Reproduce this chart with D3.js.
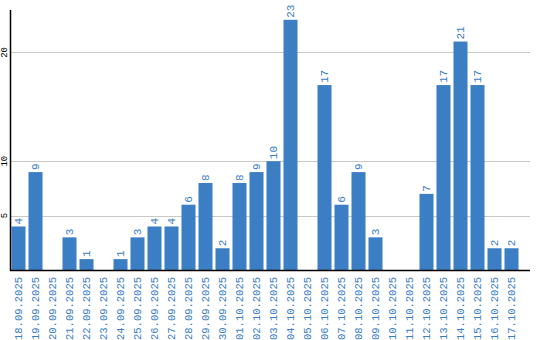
<!DOCTYPE html>
<html lang="en">
<head>
    <meta charset="UTF-8">
    <title>Daily counts</title>
    <script src="https://d3js.org/d3.v7.min.js"></script>
    <style>
        body {
            margin: 0;
            background-color: #ffffff;
        }
        svg {
            display: block;
        }
        text {
            font-family: 'Liberation Mono', monospace;
        }
    </style>
</head>
<body>
    <svg id="chart"></svg>

    <script>
        const dates = [
            "18.09.2025", "19.09.2025", "20.09.2025", "21.09.2025", "22.09.2025",
            "23.09.2025", "24.09.2025", "25.09.2025", "26.09.2025", "27.09.2025",
            "28.09.2025", "29.09.2025", "30.09.2025", "01.10.2025", "02.10.2025",
            "03.10.2025", "04.10.2025", "05.10.2025", "06.10.2025", "07.10.2025",
            "08.10.2025", "09.10.2025", "10.10.2025", "11.10.2025", "12.10.2025",
            "13.10.2025", "14.10.2025", "15.10.2025", "16.10.2025", "17.10.2025"
        ];
        const counts = [4, 9, 0, 3, 1, 0, 1, 3, 4, 4, 6, 8, 2, 8, 9, 10, 23, 0, 17, 6, 9, 3, 0, 0, 7, 17, 21, 17, 2, 2];
        const yTicks = [5, 10, 20];

        const width = 540;
        const height = 340;
        const margin = { top: 10, right: 10, bottom: 70, left: 10 };
        const barColor = "#3b7ec3";

        const svg = d3.select("#chart")
            .attr("width", width)
            .attr("height", height);

        const x = d3.scaleBand()
            .domain(dates)
            .range([margin.left, width - 20])
            .paddingInner(0.176)
            .paddingOuter(0.088);

        const y = d3.scaleLinear()
            .domain([0, 23.9])
            .range([height - margin.bottom, margin.top]);

        // gridlines
        svg.append("g")
            .selectAll("line")
            .data(yTicks)
            .enter().append("line")
            .attr("x1", margin.left)
            .attr("x2", width - margin.right)
            .attr("y1", d => Math.round(y(d)) + 0.5)
            .attr("y2", d => Math.round(y(d)) + 0.5)
            .attr("stroke", "#c8c8c8")
            .attr("stroke-width", 1);

        // y tick labels (rotated)
        svg.append("g")
            .selectAll("text")
            .data(yTicks)
            .enter().append("text")
            .attr("transform", d => `translate(5,${y(d)}) rotate(-90)`)
            .attr("text-anchor", "middle")
            .attr("dominant-baseline", "central")
            .attr("font-size", 9)
            .attr("fill", "#000")
            .text(d => d);

        // bars
        svg.append("g")
            .selectAll("rect")
            .data(counts)
            .enter().append("rect")
            .attr("x", (d, i) => x(dates[i]))
            .attr("y", d => y(d))
            .attr("width", x.bandwidth())
            .attr("height", d => y(0) - y(d))
            .attr("fill", barColor);

        // value labels
        svg.append("g")
            .selectAll("text")
            .data(counts.map((v, i) => ({ v, date: dates[i] })).filter(d => d.v > 0))
            .enter().append("text")
            .attr("transform", d => `translate(${x(d.date) + x.bandwidth() / 2},${y(d.v) - 2}) rotate(-90)`)
            .attr("text-anchor", "start")
            .attr("dominant-baseline", "central")
            .attr("font-size", 11)
            .attr("fill", barColor)
            .text(d => d.v);

        // x labels
        svg.append("g")
            .selectAll("text")
            .data(dates)
            .enter().append("text")
            .attr("transform", d => `translate(${x(d) + x.bandwidth() / 2},${y(0) + 7}) rotate(-90)`)
            .attr("text-anchor", "end")
            .attr("dominant-baseline", "central")
            .attr("font-size", 10.5)
            .attr("fill", barColor)
            .text(d => d);

        // axes lines
        svg.append("line")
            .attr("x1", margin.left + 0.5)
            .attr("x2", margin.left + 0.5)
            .attr("y1", margin.top)
            .attr("y2", y(0) + 1)
            .attr("stroke", "#000")
            .attr("stroke-width", 1.5);

        svg.append("line")
            .attr("x1", margin.left)
            .attr("x2", width - margin.right)
            .attr("y1", y(0) + 0.5)
            .attr("y2", y(0) + 0.5)
            .attr("stroke", "#000")
            .attr("stroke-width", 1.5);
    </script>
</body>
</html>
